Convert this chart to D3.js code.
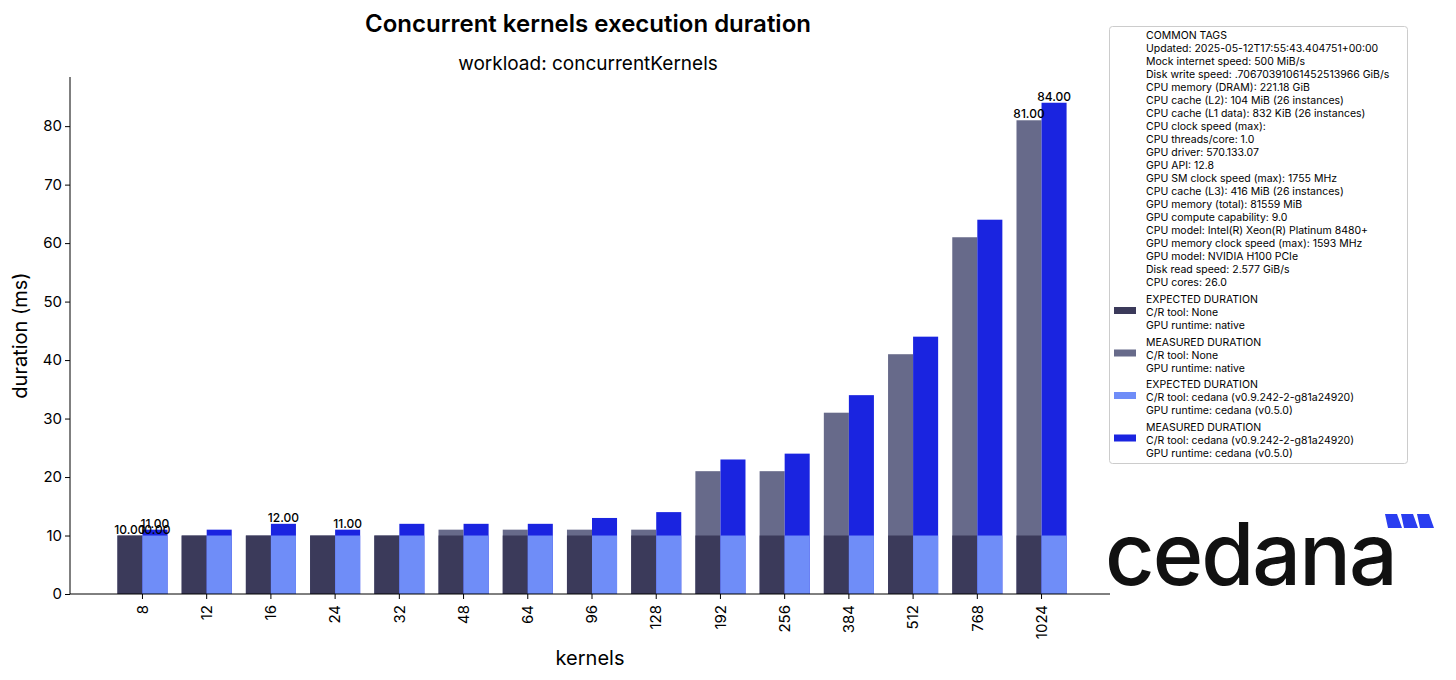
<!DOCTYPE html>
<html><head><meta charset="utf-8">
<script src="https://cdn.jsdelivr.net/npm/d3@7"></script>
<style>body{margin:0;background:#fff}text{font-family:Inter,"Noto Sans",sans-serif}</style>
</head><body><svg id="c" width="1456" height="680"></svg>
<script>
const kernels=["8","12","16","24","32","48","64","96","128","192","256","384","512","768","1024"];
const nativeMeasured=[10,10,10,10,10,11,11,11,11,21,21,31,41,61,81];
const nativeExpected=[10,10,10,10,10,10,10,10,10,10,10,10,10,10,10];
const cedanaMeasured=[11,11,12,11,12,12,12,13,14,23,24,34,44,64,84];
const cedanaExpected=[10,10,10,10,10,10,10,10,10,10,10,10,10,10,10];
const yTicks=[0,10,20,30,40,50,60,70,80];
const labels=[{k:"8",side:"n",v:10},{k:"8",side:"c",v:11},{k:"8",side:"c",v:10},{k:"16",side:"c",v:12},{k:"24",side:"c",v:11},{k:"1024",side:"n",v:81},{k:"1024",side:"c",v:84}];
const tags=["Updated: 2025-05-12T17:55:43.404751+00:00","Mock internet speed: 500 MiB/s","Disk write speed: .70670391061452513966 GiB/s","CPU memory (DRAM): 221.18 GiB","CPU cache (L2): 104 MiB (26 instances)","CPU cache (L1 data): 832 KiB (26 instances)","CPU clock speed (max):","CPU threads/core: 1.0","GPU driver: 570.133.07","GPU API: 12.8","GPU SM clock speed (max): 1755 MHz","CPU cache (L3): 416 MiB (26 instances)","GPU memory (total): 81559 MiB","GPU compute capability: 9.0","CPU model: Intel(R) Xeon(R) Platinum 8480+","GPU memory clock speed (max): 1593 MHz","GPU model: NVIDIA H100 PCIe","Disk read speed: 2.577 GiB/s","CPU cores: 26.0"];
const legend=[{t:"EXPECTED DURATION",a:"C/R tool: None",b:"GPU runtime: native",c:"#3b3a5a"},{t:"MEASURED DURATION",a:"C/R tool: None",b:"GPU runtime: native",c:"#676a8a"},{t:"EXPECTED DURATION",a:"C/R tool: cedana (v0.9.242-2-g81a24920)",b:"GPU runtime: cedana (v0.5.0)",c:"#6f8df8"},{t:"MEASURED DURATION",a:"C/R tool: cedana (v0.9.242-2-g81a24920)",b:"GPU runtime: cedana (v0.5.0)",c:"#1a24e0"}];
const svg=d3.select("#c");
const L=70,R=1110,T=77,B=594;
const x=d3.scaleBand().domain(kernels).range([L+41,R-37]).paddingInner(0.22).paddingOuter(0.1);
const y=d3.scaleLinear().domain([0,88.4]).range([B,T]);
const bw=x.bandwidth()/2;
const g=svg.append("g");
kernels.forEach((k,i)=>{
  const x0=x(k);
  g.append("rect").attr("x",x0).attr("width",bw).attr("y",y(nativeMeasured[i])).attr("height",B-y(nativeMeasured[i])).attr("fill","#676a8a");
  g.append("rect").attr("x",x0).attr("width",bw).attr("y",y(nativeExpected[i])).attr("height",B-y(nativeExpected[i])).attr("fill","#3b3a5a");
  g.append("rect").attr("x",x0+bw).attr("width",bw).attr("y",y(cedanaMeasured[i])).attr("height",B-y(cedanaMeasured[i])).attr("fill","#1a24e0");
  g.append("rect").attr("x",x0+bw).attr("width",bw).attr("y",y(cedanaExpected[i])).attr("height",B-y(cedanaExpected[i])).attr("fill","#6f8df8");
});
labels.forEach(d=>{
  const cx=x(d.k)+(d.side==="n"?bw/2:bw*1.5);
  g.append("text").attr("x",cx).attr("y",y(d.v)-2).attr("text-anchor","middle").attr("font-size",12).attr("font-weight",500).text(d.v.toFixed(2));
});
const ya=svg.append("g").attr("transform",`translate(${L},0)`).call(d3.axisLeft(y).tickValues(yTicks).tickSize(5).tickSizeOuter(0));
ya.select(".domain").attr("d",`M0,${T}V${B}`);
ya.selectAll("text").attr("font-size",15).attr("font-family","Inter");
const xa=svg.append("g").attr("transform",`translate(0,${B})`).call(d3.axisBottom(x).tickSize(5).tickSizeOuter(0));
xa.select(".domain").attr("d",`M${L},0H${R}`);
xa.selectAll(".tick line").attr("x1",0);
xa.selectAll("text").attr("font-size",15).attr("font-family","Inter").attr("transform","rotate(-90)").attr("text-anchor","end").attr("dx","-0.6em").attr("dy","0.35em").attr("x",-2).attr("y",0);
svg.append("text").attr("x",588).attr("y",32).attr("text-anchor","middle").attr("font-size",24).attr("font-weight",600).text("Concurrent kernels execution duration");
svg.append("text").attr("x",588).attr("y",70).attr("text-anchor","middle").attr("font-size",19).text("workload: concurrentKernels");
svg.append("text").attr("x",590).attr("y",665).attr("text-anchor","middle").attr("font-size",20).text("kernels");
svg.append("text").attr("transform",`translate(27,${(T+B)/2}) rotate(-90)`).attr("text-anchor","middle").attr("font-size",20).text("duration (ms)");
const lg=svg.append("g");
lg.append("rect").attr("x",1109.5).attr("y",26.5).attr("width",298).attr("height",437).attr("rx",3).attr("fill","#fff").attr("stroke","#ccc");
const lx=1146,fs=10.5;
lg.append("text").attr("x",lx).attr("y",39).attr("font-size",fs).text("COMMON TAGS");
tags.forEach((t,i)=>lg.append("text").attr("x",lx).attr("y",52+i*13).attr("font-size",fs).text(t));
legend.forEach((d,i)=>{
  const y0=303+i*42.5;
  lg.append("text").attr("x",lx).attr("y",y0).attr("font-size",fs).text(d.t);
  lg.append("text").attr("x",lx).attr("y",y0+13).attr("font-size",fs).text(d.a);
  lg.append("text").attr("x",lx).attr("y",y0+26).attr("font-size",fs).text(d.b);
  lg.append("rect").attr("x",1114).attr("y",y0+4).attr("width",22).attr("height",7).attr("fill",d.c);
});
svg.append("text").attr("x",1105).attr("y",585).attr("font-size",86).attr("font-family","'Open Sans',sans-serif").attr("font-weight",500).attr("letter-spacing",-2).attr("fill","#111").text("cedana");
[0,1,2].forEach(i=>{const bx=1385+i*16;svg.append("path").attr("d",`M${bx},514H${bx+12}L${bx+17},528H${bx+3}Z`).attr("fill","#2a3ef0");});
</script></body></html>
